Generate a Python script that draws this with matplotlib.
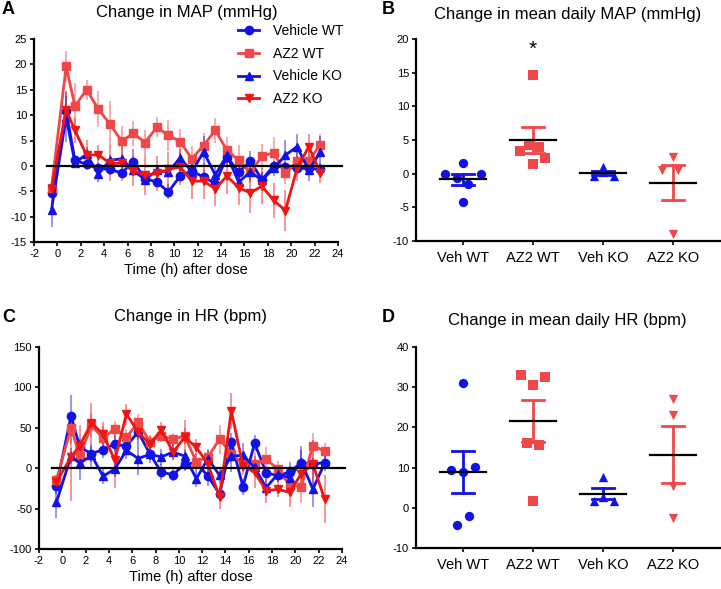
import numpy as np
import matplotlib
matplotlib.use("Agg")
import matplotlib.pyplot as plt

plt.rcParams['font.family'] = ['Liberation Sans', 'DejaVu Sans']
plt.rcParams['axes.unicode_minus'] = False

# time points (h after dose)
hours = [-0.5, 0.75] + [h + 0.5 for h in range(1, 23)]

# ---- Panel A: change in MAP (mmHg) ----
map_veh_wt = [-5.3, 10.8, 1.1, 0.3, -0.5, -0.7, -1.4, 0.8, -2.5, -3.2, -5.1, -2.0,
              -1.0, -2.2, -3.5, 1.8, -1.2, 0.9, -2.7, 0.0, -0.3, -0.5, -0.5, -0.7]
map_veh_wt_err = [1.0, 3.0, 1.0, 1.0, 1.0, 1.0, 1.0, 2.5, 1.0, 1.0, 1.5, 1.0,
                  1.5, 1.5, 2.0, 2.0, 1.5, 2.0, 1.5, 1.0, 1.0, 1.0, 1.0, 1.0]
map_az2_wt = [-4.3, 19.6, 11.8, 15.0, 11.2, 8.2, 4.9, 6.4, 4.6, 7.6, 6.0, 4.8,
              1.4, 4.0, 7.0, 3.1, 1.1, -1.3, 1.9, 2.6, -1.5, 0.9, 1.0, 4.2]
map_az2_wt_err = [1.0, 3.0, 4.5, 2.0, 3.5, 4.5, 3.0, 2.5, 2.5, 2.0, 3.0, 2.5,
                  2.5, 2.5, 2.5, 2.5, 3.0, 2.0, 2.5, 3.0, 2.0, 2.0, 2.0, 2.0]
map_veh_ko = [-8.6, 9.7, 0.6, 2.3, -1.6, 1.1, 1.4, -0.9, -2.7, -0.9, -1.2, 1.6,
              -1.2, 2.8, -1.8, 2.1, -3.2, -1.2, -2.8, -0.5, 2.1, 3.8, -0.9, 2.8]
map_veh_ko_err = [3.5, 5.0, 1.0, 1.5, 1.5, 1.0, 1.0, 1.0, 1.0, 1.0, 1.0, 1.0,
                  1.5, 3.0, 2.0, 1.5, 2.0, 1.5, 1.5, 1.5, 3.0, 2.5, 2.0, 3.0]
map_az2_ko = [-4.5, 11.0, 7.0, 2.1, 2.2, 0.5, 0.5, -1.0, -1.8, -1.5, -0.7, -0.2,
              -3.0, -3.0, -4.5, -2.0, -4.3, -5.3, -4.0, -6.8, -8.8, -0.5, 3.8, -1.4]
map_az2_ko_err = [1.5, 3.5, 2.5, 3.0, 2.0, 3.5, 3.5, 3.0, 4.0, 3.5, 3.5, 3.5,
                  3.5, 3.5, 3.5, 3.5, 3.5, 4.0, 3.5, 3.5, 4.0, 2.5, 2.5, 2.0]

# ---- Panel C: change in HR (bpm) ----
hr_veh_wt = [-22, 65, 26, 18, 23, 30, 27, 45, 18, -5, -8, 5,
             7, -10, -32, 33, -23, 31, -6, -9, -5, 7, 5, 7]
hr_veh_wt_err = [10, 25, 10, 10, 10, 10, 10, 12, 8, 10, 8, 8,
                 10, 12, 8, 10, 10, 10, 8, 8, 8, 15, 8, 8]
hr_az2_wt = [-14, 50, 15, 53, 37, 49, 38, 57, 33, 40, 36, 40,
             8, 14, 36, 18, 5, 5, 11, -1, -21, -23, 28, 21]
hr_az2_wt_err = [5, 20, 15, 15, 15, 10, 10, 10, 8, 8, 8, 10,
                 8, 10, 18, 10, 10, 15, 15, 10, 10, 20, 15, 10]
hr_veh_ko = [-42, 15, 6, 16, -10, -1, 22, 12, 17, 14, 20, 15,
             -13, 12, -9, 15, 16, 1, -24, -7, -12, 8, -26, 6]
hr_veh_ko_err = [20, 10, 20, 15, 10, 10, 10, 20, 10, 10, 10, 8,
                 10, 10, 10, 20, 15, 10, 10, 10, 20, 20, 22, 10]
hr_az2_ko = [-17, 14, 28, 56, 42, 10, 67, 45, 30, 47, 20, 38,
             26, 5, -36, 71, 3, -5, -28, -26, -30, -7, 5, -38]
hr_az2_ko_err = [8, 55, 25, 25, 15, 35, 13, 10, 10, 10, 10, 22,
                 10, 12, 15, 22, 12, 20, 15, 10, 18, 15, 30, 30]

# ---- Panels B and D: per-animal daily means ----
groups = ["Veh WT", "AZ2 WT", "Veh KO", "AZ2 KO"]
daily_map = [[1.6, -0.1, -0.1, -0.6, -1.6, -4.2],
             [14.6, 3.3, 4.3, 4.0, 2.4, 1.5],
             [1.0, 0.3, -0.4, -0.4],
             [2.5, 0.6, 0.5, -8.9]]
daily_hr = [[31.1, 9.4, 9.0, 10.2, -2.1, -4.2],
            [33.1, 32.6, 30.5, 16.0, 15.5, 1.8],
            [7.6, 1.8, 1.8, 2.8],
            [27.0, 23.1, 5.3, -2.6]]
# horizontal scatter offsets of the dots (category units)
jitter_map = [[0.0, -0.25, 0.26, -0.09, 0.08, 0.0],
              [0.0, -0.18, -0.06, 0.09, 0.18, 0.0],
              [0.0, 0.0, -0.13, 0.16],
              [0.0, -0.16, 0.08, 0.0]]
jitter_hr = [[0.0, -0.17, 0.0, 0.18, 0.09, -0.09],
             [-0.17, 0.18, 0.0, -0.09, 0.09, 0.0],
             [0.0, -0.13, 0.16, 0.0],
             [0.0, 0.0, 0.0, 0.0]]

BLUE = '#1212E8'
LRED = '#F04848'
RED = '#F01414'
styles = [("Vehicle WT", BLUE, 'o'), ("AZ2 WT", LRED, 's'),
          ("Vehicle KO", BLUE, '^'), ("AZ2 KO", RED, 'v')]
dot_colors = [BLUE, LRED, BLUE, LRED]

fig = plt.figure(figsize=(7.21, 5.89), dpi=100)
W, H = 721.0, 589.0


def add_ax(x0, y0, x1, y1):
    return fig.add_axes([x0 / W, 1 - y1 / H, (x1 - x0) / W, (y1 - y0) / H])


def style_ax(ax):
    for s in ['top', 'right']:
        ax.spines[s].set_visible(False)
    for s in ['left', 'bottom']:
        ax.spines[s].set_linewidth(1.6)
    ax.tick_params(labelsize=8, width=1.2, length=3, pad=2)


def time_panel(ax, series, ylim, yticks, legend=False):
    for (label, color, marker), (y, e) in zip(styles, series):
        ax.errorbar(hours, y, yerr=e, fmt='none', ecolor=color, alpha=0.45,
                    elinewidth=1.4, capsize=0, zorder=2)
        ax.plot(hours, y, color=color, marker=marker, markersize=6, lw=2,
                label=label, zorder=3)
    ax.plot([-0.9, 24.3], [0, 0], color='black', lw=1.6, zorder=4, clip_on=False)
    ax.set_xlim(-2, 24)
    ax.set_ylim(*ylim)
    ax.set_xticks(range(-2, 25, 2))
    ax.set_yticks(yticks)
    ax.set_xlabel("Time (h) after dose", fontsize=10.5, labelpad=3)
    style_ax(ax)
    if legend:
        ax.legend(loc='upper right', bbox_to_anchor=(1.036, 1.10), frameon=False,
                  fontsize=10, handlelength=1.5, labelspacing=0.62,
                  borderaxespad=0, handletextpad=1.0)


def dot_panel(ax, data, jit, ylim, yticks):
    for i, (vals, jj) in enumerate(zip(data, jit)):
        marker = styles[i][2]
        color = dot_colors[i]
        vals = np.array(vals)
        xs = i + np.array(jj)
        ax.scatter(xs, vals, color=color, marker=marker, s=45, zorder=3,
                   linewidths=0)
        m = vals.mean()
        sem = vals.std(ddof=1) / np.sqrt(len(vals))
        ax.plot([i - 0.16, i + 0.16], [m + sem] * 2, color=color, lw=2, zorder=4)
        ax.plot([i - 0.16, i + 0.16], [m - sem] * 2, color=color, lw=2, zorder=4)
        ax.plot([i, i], [m - sem, m + sem], color=color, lw=2, zorder=4)
        ax.plot([i - 0.33, i + 0.33], [m, m], color='black', lw=1.6, zorder=5)
    ax.set_xlim(-0.67, 3.69)
    ax.set_ylim(*ylim)
    ax.set_yticks(yticks)
    ax.set_xticks(range(len(groups)))
    ax.set_xticklabels(groups)
    style_ax(ax)
    ax.tick_params(axis='x', labelsize=10.5, pad=4)


axA = add_ax(34, 39, 338, 242)
time_panel(axA, [(map_veh_wt, map_veh_wt_err), (map_az2_wt, map_az2_wt_err),
                 (map_veh_ko, map_veh_ko_err), (map_az2_ko, map_az2_ko_err)],
           (-15, 25), range(-15, 26, 5), legend=True)

axB = add_ax(416, 39, 721, 241)
dot_panel(axB, daily_map, jitter_map, (-10, 20), range(-10, 21, 5))
axB.text(1, 18.4, "*", ha='center', va='center', fontsize=15)

axC = add_ax(39, 347, 342, 549)
time_panel(axC, [(hr_veh_wt, hr_veh_wt_err), (hr_az2_wt, hr_az2_wt_err),
                 (hr_veh_ko, hr_veh_ko_err), (hr_az2_ko, hr_az2_ko_err)],
           (-100, 150), range(-100, 151, 50))

axD = add_ax(416, 347, 721, 548)
dot_panel(axD, daily_hr, jitter_hr, (-10, 40), range(-10, 41, 10))

# titles and panel letters
fig.text(187 / W, 1 - 12 / H, "Change in MAP (mmHg)", ha='center', va='center', fontsize=12)
fig.text(568 / W, 1 - 14 / H, "Change in mean daily MAP (mmHg)", ha='center', va='center', fontsize=12)
fig.text(190 / W, 1 - 317 / H, "Change in HR (bpm)", ha='center', va='center', fontsize=12)
fig.text(567 / W, 1 - 320 / H, "Change in mean daily HR (bpm)", ha='center', va='center', fontsize=12)
for lx, ly, letter in [(2, 10, "A"), (382, 10, "B"), (2, 317, "C"), (382, 318, "D")]:
    fig.text(lx / W, 1 - ly / H, letter, ha='left', va='center', fontsize=13, fontweight='bold')

fig.savefig("out.png", dpi=100)
